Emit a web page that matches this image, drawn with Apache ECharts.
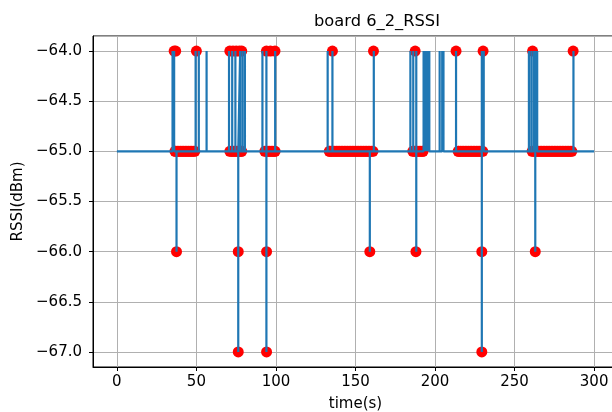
<!DOCTYPE html>
<html>
<head>
<meta charset="utf-8">
<script src="https://cdn.jsdelivr.net/npm/echarts@6/dist/echarts.min.js"></script>
<style>
  html, body { margin: 0; padding: 0; background: #ffffff; }
  #chart { width: 612px; height: 412px; }
</style>
</head>
<body>
<div id="chart"></div>
<script>
// Texts
const chartTitle = 'board 6_2_RSSI';
const xAxisName = 'time(s)';
const yAxisName = 'RSSI(dBm)';

// RSSI trace over time: [time (s), RSSI (dBm)]
const rssiTrace = [
  [0, -65],
  [35, -65], [35, -64], [35, -65],
  [36, -65], [36, -64], [36, -65],
  [37.5, -65], [37.5, -66], [37.5, -65],
  [49.5, -65], [49.5, -64], [49.5, -65],
  [51.5, -65], [51.5, -64], [51.5, -65],
  [56.4, -65], [56.4, -64], [56.4, -65],
  [70.5, -65], [70.5, -64], [70.5, -65],
  [72.5, -65], [72.5, -64], [72.5, -65],
  [74.5, -65], [74.5, -64], [74.5, -65],
  [76.3, -65], [76.3, -67], [76.3, -65],
  [77.5, -65], [77.5, -64], [77.5, -65],
  [79, -65], [79, -64], [79, -65],
  [80.5, -65], [80.5, -64], [80.5, -65],
  [91.5, -65], [91.5, -64], [91.5, -65],
  [94, -65], [94, -64], [94, -67], [94, -65],
  [99.5, -65], [99.5, -64], [99.5, -65],
  [132.5, -65], [132.5, -64], [132.5, -65],
  [135.5, -65], [135.5, -64], [135.5, -65],
  [159, -65], [159, -66], [159, -65],
  [161.5, -65], [161.5, -64], [161.5, -65],
  [184.5, -65], [184.5, -64], [184.5, -65],
  [186.3, -65], [186.3, -64], [186.3, -65],
  [188.2, -65], [188.2, -64], [188.2, -66], [188.2, -65],
  [192.8, -65], [192.8, -64], [192.8, -65],
  [194, -65], [194, -64], [194, -65],
  [195.2, -65], [195.2, -64], [195.2, -65],
  [196.4, -65], [196.4, -64], [196.4, -65],
  [202.9, -65], [202.9, -64], [202.9, -65],
  [204.5, -65], [204.5, -64], [204.5, -65],
  [205.3, -65], [205.3, -64], [205.3, -65],
  [213.2, -65], [213.2, -64], [213.2, -65],
  [229.4, -65], [229.4, -64], [229.4, -67], [229.4, -65],
  [230.6, -65], [230.6, -64], [230.6, -65],
  [259, -65], [259, -64], [259, -65],
  [260.5, -65], [260.5, -64], [260.5, -65],
  [262, -65], [262, -64], [262, -65],
  [263, -65], [263, -64], [263, -66], [263, -65],
  [264.2, -65], [264.2, -64], [264.2, -65],
  [287, -65], [287, -64], [287, -65],
  [300, -65]
];

// Sample times (s) of the marked readings, grouped by RSSI level (dBm)
const samplesAt64 = [36, 37, 50, 71, 73, 75, 77, 78.5, 94, 96.5, 99.4, 135.5, 161.3, 187.5, 213.2, 230.2, 261.3, 286.8];
const samplesAt65 = [
  36.5, 37, 38, 39, 40, 41, 42, 43, 44, 45, 46, 47, 48, 49,
  71, 72, 73, 74, 75, 76, 77, 78, 78.5,
  93, 94, 95, 96, 97, 98, 99, 99.5,
  133.5, 134, 135, 136, 137, 138, 139, 140, 141, 142, 143, 144, 145, 146, 147,
  148, 149, 150, 151, 152, 153, 154, 155, 156, 157, 158, 159, 160, 161,
  186, 187, 188, 189, 190, 191, 192, 192.5,
  214.5, 215, 216, 217, 218, 219, 220, 221, 222, 223, 224, 225, 226, 227, 228, 229, 230,
  261, 262, 263, 264, 265, 266, 267, 268, 269, 270, 271, 272, 273, 274, 275, 276,
  277, 278, 279, 280, 281, 282, 283, 284, 285, 286
];
const samplesAt66 = [37.5, 76.3, 94.1, 159, 188, 229.4, 263];
const samplesAt67 = [76.3, 94.1, 229.4];

// Axis ranges
const xRange = [-15, 315];
const yRange = [-67.15, -63.85];

const sampleGroups = [
  [-64, samplesAt64],
  [-65, samplesAt65],
  [-66, samplesAt66],
  [-67, samplesAt67]
];
const sampleData = [];
sampleGroups.forEach(([level, times]) => {
  times.forEach(t => sampleData.push([t, level]));
});

const FONT = 'DejaVu Sans';
const minus = s => String(s).replace('-', '\u2212');

const chart = echarts.init(document.getElementById('chart'), null, { renderer: 'canvas' });
chart.setOption({
  animation: false,
  backgroundColor: '#ffffff',
  title: {
    text: chartTitle,
    left: 372,
    textAlign: 'center',
    top: 9,
    textStyle: { fontFamily: FONT, fontSize: 16.3, fontWeight: 'normal', color: '#000' }
  },
  grid: {
    left: 93,
    right: -6,
    top: 36,
    bottom: 45,
    outerBoundsMode: 'none',
    containLabel: false,
    show: true,
    borderColor: '#000',
    borderWidth: 1,
    backgroundColor: 'transparent'
  },
  xAxis: {
    type: 'value',
    min: xRange[0],
    max: xRange[1],
    name: xAxisName,
    nameLocation: 'middle',
    nameGap: 30,
    nameTextStyle: { fontFamily: FONT, fontSize: 15, color: '#000' },
    axisLine: { show: true, onZero: false, lineStyle: { color: '#000', width: 1 } },
    axisTick: { show: true, inside: false, length: 4, lineStyle: { color: '#000', width: 1 } },
    axisLabel: {
      showMinLabel: false,
      showMaxLabel: false,
      margin: 8,
      fontFamily: FONT,
      fontSize: 15,
      color: '#000',
      formatter: v => minus(v)
    },
    splitLine: { show: true, lineStyle: { color: '#b0b0b0', width: 1 } }
  },
  yAxis: {
    type: 'value',
    min: yRange[0],
    max: yRange[1],
    name: yAxisName,
    nameLocation: 'middle',
    nameGap: 64,
    nameTextStyle: { fontFamily: FONT, fontSize: 15, color: '#000' },
    axisLine: { show: true, onZero: false, lineStyle: { color: '#000', width: 1 } },
    axisTick: { show: true, inside: false, length: 4, lineStyle: { color: '#000', width: 1 } },
    axisLabel: {
      showMinLabel: false,
      showMaxLabel: false,
      margin: 11,
      fontFamily: FONT,
      fontSize: 15,
      color: '#000',
      formatter: v => minus(v.toFixed(1))
    },
    splitLine: { show: true, lineStyle: { color: '#b0b0b0', width: 1 } }
  },
  series: [
    {
      name: 'samples',
      type: 'scatter',
      data: sampleData,
      symbol: 'circle',
      symbolSize: 11,
      itemStyle: { color: '#ff0000', opacity: 1 },
      z: 2,
      silent: true
    },
    {
      name: 'trace',
      type: 'line',
      data: rssiTrace,
      showSymbol: false,
      symbol: 'none',
      lineStyle: { color: '#1f77b4', width: 2.2 },
      z: 3,
      silent: true
    }
  ]
});
</script>
</body>
</html>
